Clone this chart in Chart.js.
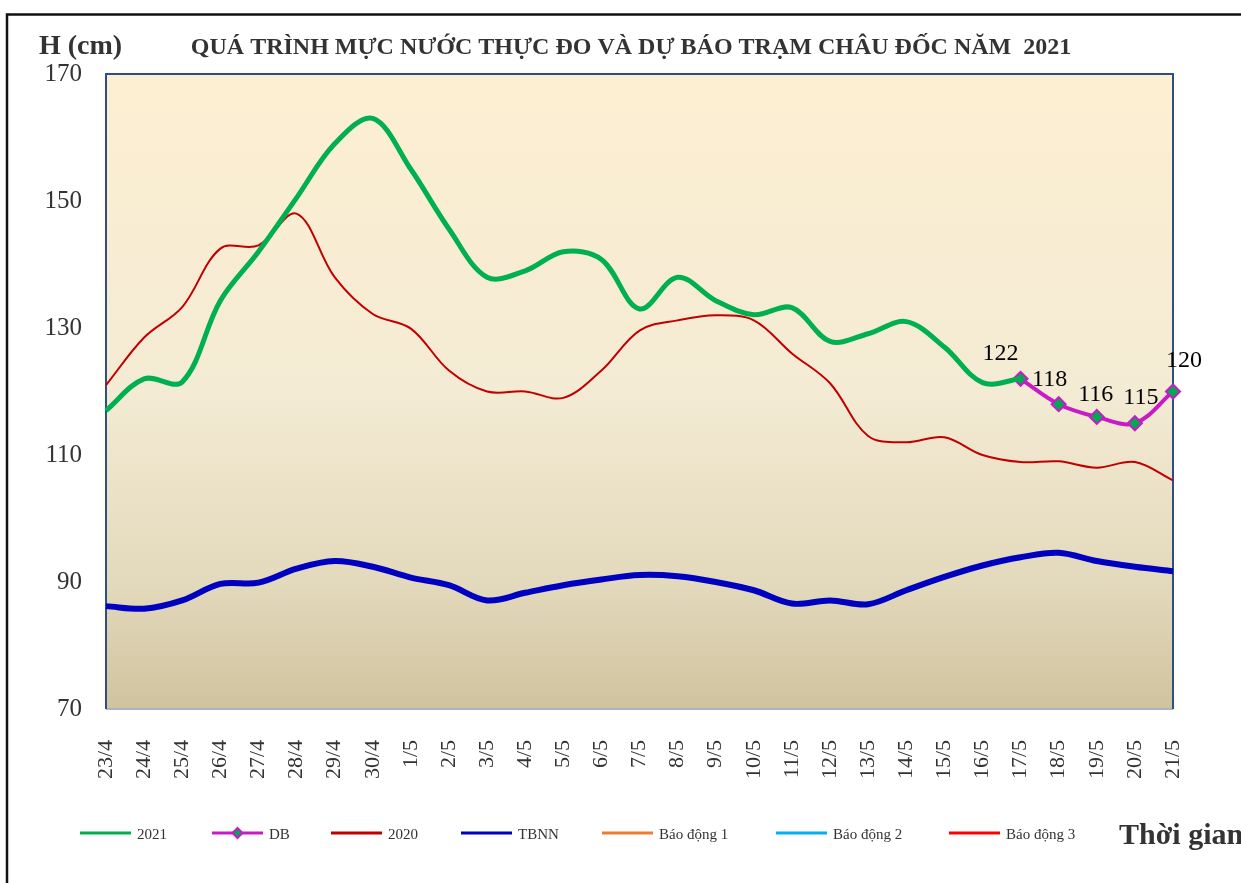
<!DOCTYPE html>
<html>
<head>
<meta charset="utf-8">
<title>Mực nước Châu Đốc 2021</title>
<script src="https://cdn.jsdelivr.net/npm/chart.js@4.4.0/dist/chart.umd.min.js"></script>
<style>
  html, body { margin: 0; padding: 0; background: #fff; overflow: hidden; }
  #wrap { position: relative; width: 1241px; height: 883px; }
</style>
</head>
<body>
<div id="wrap"><canvas id="graph" width="1241" height="883"></canvas></div>
<script>
'use strict';

// days on the x axis
let dayLabels = ['23/4', '24/4', '25/4', '26/4', '27/4', '28/4', '29/4', '30/4',
  '1/5', '2/5', '3/5', '4/5', '5/5', '6/5', '7/5', '8/5', '9/5', '10/5', '11/5',
  '12/5', '13/5', '14/5', '15/5', '16/5', '17/5', '18/5', '19/5', '20/5', '21/5'];

// measured 2021 (ends on 17/5)
let level2021 = [117, 122, 121.5, 134.3, 142, 150.5, 159, 163, 155, 145.6,
  138, 139, 142, 140.8, 133, 138, 134.3, 132.1, 133.2, 127.9,
  129.1, 131, 127, 121.4, 122, null, null, null, null];

// forecast (DB) 17/5 -> 21/5
let levelForecast = [null, null, null, null, null, null, null, null, null, null,
  null, null, null, null, null, null, null, null, null, null,
  null, null, null, null, 122, 118, 116, 115, 120];

let level2020 = [121, 128.5, 133.3, 142.5, 143, 148, 138, 132.2, 129.9, 123.3,
  120, 120, 119, 123.3, 129.6, 131.2, 132, 131.2, 126, 121.3,
  113, 112, 112.8, 110, 108.9, 109, 108, 108.9, 106];

// trung binh nhieu nam
let levelAverage = [86.2, 85.8, 87.1, 89.7, 89.9, 92.1, 93.3, 92.4, 90.7, 89.5,
  87.1, 88.3, 89.5, 90.4, 91.1, 90.9, 90, 88.7, 86.6, 87.1,
  86.5, 88.7, 90.8, 92.6, 93.9, 94.6, 93.3, 92.4, 91.7];

let yTicks = [70, 90, 110, 130, 150, 170];

const serif = "'Liberation Serif', 'Times New Roman', serif";
const chartTitle = 'QUÁ TRÌNH MỰC NƯỚC THỰC ĐO VÀ DỰ BÁO TRẠM CHÂU ĐỐC NĂM  2021';

// page frame + plot background
const backdrop = {
  id: 'backdrop',
  beforeDraw(chart) {
    const {ctx, chartArea: a} = chart;
    ctx.save();
    ctx.lineWidth = 2.5;
    ctx.strokeStyle = '#111';
    ctx.strokeRect(7, 14.5, 1400, 1000);

    let grad = ctx.createLinearGradient(0, a.top, 0, a.bottom);
    grad.addColorStop(0, 'rgb(253,239,210)');
    grad.addColorStop(0.5, 'rgb(244,235,212)');
    grad.addColorStop(0.8, 'rgb(227,217,188)');
    grad.addColorStop(1, 'rgb(208,195,158)');
    ctx.fillStyle = grad;
    ctx.fillRect(a.left, a.top, a.right - a.left, a.bottom - a.top);
    ctx.restore();
  },
  beforeDatasetsDraw(chart) {
    const {ctx, chartArea: a} = chart;
    ctx.save();
    ctx.lineWidth = 2;
    ctx.strokeStyle = '#a9b3c1';
    ctx.beginPath();
    ctx.moveTo(a.left, a.bottom);
    ctx.lineTo(a.right, a.bottom);
    ctx.stroke();
    ctx.strokeStyle = '#2c5085';
    ctx.beginPath();
    ctx.moveTo(a.left, a.bottom);
    ctx.lineTo(a.left, a.top);
    ctx.lineTo(a.right, a.top);
    ctx.lineTo(a.right, a.bottom);
    ctx.stroke();
    ctx.restore();
  }
};

// numbers above the forecast points
const forecastLabels = {
  id: 'forecastLabels',
  afterDatasetsDraw(chart) {
    const ctx = chart.ctx;
    const meta = chart.getDatasetMeta(1);
    const shift = [[-20, -25], [-9, -24], [-1, -22], [6, -26], [11, -31]];
    let k = 0;
    ctx.save();
    ctx.font = '24px ' + serif;
    ctx.fillStyle = '#000';
    ctx.textAlign = 'center';
    ctx.textBaseline = 'middle';
    meta.data.forEach((pt, i) => {
      let v = levelForecast[i];
      if (v === null || pt.skip) return;
      let s = shift[k] || [0, -25];
      ctx.fillText(String(v), pt.x + s[0], pt.y + s[1]);
      k++;
    });
    ctx.restore();
  }
};

// title, axis captions and the legend row
const captions = {
  id: 'captions',
  afterDraw(chart) {
    const ctx = chart.ctx;
    ctx.save();
    ctx.fillStyle = '#333';
    ctx.textBaseline = 'middle';

    ctx.font = 'bold 24px ' + serif;
    ctx.textAlign = 'center';
    ctx.fillText(chartTitle, 631, 48);

    ctx.textAlign = 'left';
    ctx.font = 'bold 28px ' + serif;
    ctx.fillText('H (cm)', 39, 47);

    ctx.font = 'bold 30px ' + serif;
    ctx.fillText('Thời gian', 1119, 836);

    const lineStart = [80, 212, 331, 461, 602, 776, 949];
    const y = 833;
    ctx.font = '15px ' + serif;
    chart.data.datasets.forEach((ds, i) => {
      let x = lineStart[i];
      ctx.strokeStyle = ds.borderColor;
      ctx.lineWidth = 3;
      ctx.beginPath();
      ctx.moveTo(x, y);
      ctx.lineTo(x + 51, y);
      ctx.stroke();
      if (ds.pointStyle === 'rectRot') {
        ctx.fillStyle = ds.pointBackgroundColor;
        ctx.lineWidth = 2;
        ctx.beginPath();
        ctx.moveTo(x + 25.5, y - 5);
        ctx.lineTo(x + 30.5, y);
        ctx.lineTo(x + 25.5, y + 5);
        ctx.lineTo(x + 20.5, y);
        ctx.closePath();
        ctx.fill();
        ctx.stroke();
      }
      ctx.fillStyle = '#333';
      ctx.fillText(ds.label, x + 57, y + 2);
    });
    ctx.restore();
  }
};

const ctx = document.getElementById('graph').getContext('2d');
let graph = new Chart(ctx, { //eslint-disable-line
  type: 'line',
  data: {
    labels: dayLabels,
    datasets: [{
      label: '2021',
      data: level2021,
      borderColor: '#00b050',
      borderWidth: 5,
      pointRadius: 0
    },
    {
      label: 'DB',
      data: levelForecast,
      borderColor: '#c71bc7',
      borderWidth: 4,
      pointStyle: 'rectRot',
      pointRadius: 7,
      pointBorderWidth: 2,
      pointBackgroundColor: '#00a84f',
      pointBorderColor: '#c71bc7'
    },
    {
      label: '2020',
      data: level2020,
      borderColor: '#c00000',
      borderWidth: 2,
      pointRadius: 0
    },
    {
      label: 'TBNN',
      data: levelAverage,
      borderColor: '#0000c0',
      borderWidth: 6,
      pointRadius: 0
    },
    {
      label: 'Báo động 1',
      data: [],
      borderColor: '#ed7d31',
      borderWidth: 2,
      pointRadius: 0
    },
    {
      label: 'Báo động 2',
      data: [],
      borderColor: '#00b0f0',
      borderWidth: 2,
      pointRadius: 0
    },
    {
      label: 'Báo động 3',
      data: [],
      borderColor: '#ff0000',
      borderWidth: 2,
      pointRadius: 0
    }]
  },
  options: {
    responsive: false,
    animation: false,
    devicePixelRatio: 1,
    tension: 0.35,
    spanGaps: false,
    layout: {
      padding: { top: 74, right: 68, bottom: 74, left: 0 }
    },
    plugins: {
      legend: { display: false },
      title: { display: false },
      tooltip: { enabled: false }
    },
    scales: {
      x: {
        grid: { display: false },
        border: { display: false },
        ticks: {
          autoSkip: false,
          maxRotation: 90,
          minRotation: 90,
          padding: 23,
          color: '#333',
          font: { family: serif, size: 22 }
        },
        afterFit(scale) { scale.height = 100; }
      },
      y: {
        min: 70,
        max: 170,
        grid: { display: false },
        border: { display: false },
        afterBuildTicks(scale) {
          scale.ticks = yTicks.map(v => ({ value: v }));
        },
        ticks: {
          padding: 16,
          color: '#333',
          font: { family: serif, size: 25 }
        },
        afterFit(scale) { scale.width = 106; }
      }
    }
  },
  plugins: [backdrop, forecastLabels, captions]
});
</script>
</body>
</html>
